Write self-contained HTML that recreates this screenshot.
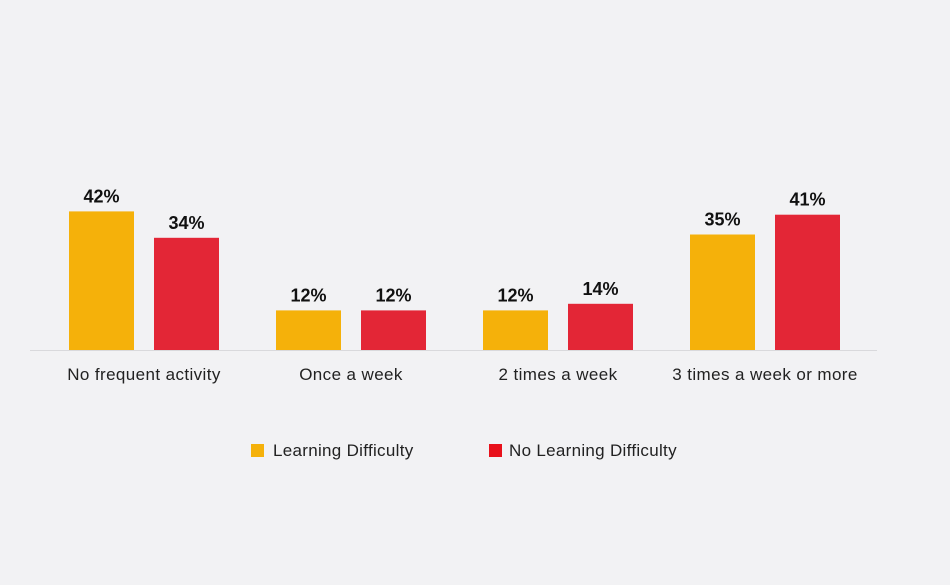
<!DOCTYPE html>
<html><head><meta charset="utf-8"><style>
body{margin:0;background:#f2f2f4;}
svg{display:block;font-family:"Liberation Sans",sans-serif;}
</style></head><body>
<svg id="chart" width="950" height="585" viewBox="0 0 950 585">
<rect width="950" height="585" fill="#f2f2f4"/>
<line x1="30" y1="350.5" x2="877" y2="350.5" stroke="#d9d9dc" stroke-width="1"/>
<g id="bars"></g>
<g>
<rect x="251" y="444" width="13" height="13" fill="#f5b10a"/>
<text x="273" y="456" font-size="17" letter-spacing="0.3" fill="#222">Learning Difficulty</text>
<rect x="489" y="444" width="13" height="13" fill="#e8111b"/>
<text x="509" y="456" font-size="17" letter-spacing="0.3" fill="#222">No Learning Difficulty</text>
</g>
</svg>
<script>
const categories = ["No frequent activity","Once a week","2 times a week","3 times a week or more"];
const learningDifficulty = [42,12,12,35];
const noLearningDifficulty = [34,12,14,41];
const seriesNames = ["learning-difficulty","no-learning-difficulty"];

const base = 350, scale = 3.3, groupStart = 69, groupStep = 207, barW = 65, gap = 20;
const colors = ["#f5b10a","#e32636"];
const y = v => base - v*scale;
const g = document.getElementById('bars');
const NS = "http://www.w3.org/2000/svg";
categories.forEach((c,i)=>{
  const gx = groupStart + i*groupStep;
  [learningDifficulty, noLearningDifficulty].forEach((s,j)=>{
    const x = gx + j*(barW+gap);
    const r = document.createElementNS(NS,'rect');
    r.setAttribute('x',x); r.setAttribute('y',y(s[i]));
    r.setAttribute('width',barW); r.setAttribute('height',base-y(s[i]));
    r.setAttribute('fill',colors[j]);
    
    
    g.appendChild(r);
    const t = document.createElementNS(NS,'text');
    t.setAttribute('x',x+barW/2); t.setAttribute('y',y(s[i])-9);
    t.setAttribute('text-anchor','middle'); t.setAttribute('font-size','18');
    t.setAttribute('font-weight','bold'); t.setAttribute('fill','#111');
    t.textContent = s[i]+'%';
    
    
    g.appendChild(t);
  });
  const l = document.createElementNS(NS,'text');
  l.setAttribute('x',gx+barW+gap/2); l.setAttribute('y',380);
  l.setAttribute('text-anchor','middle'); l.setAttribute('font-size','17');
  l.setAttribute('letter-spacing','0.4'); l.setAttribute('fill','#222');
  l.textContent = c;
  
  
  g.appendChild(l);
});
</script>
</body></html>
